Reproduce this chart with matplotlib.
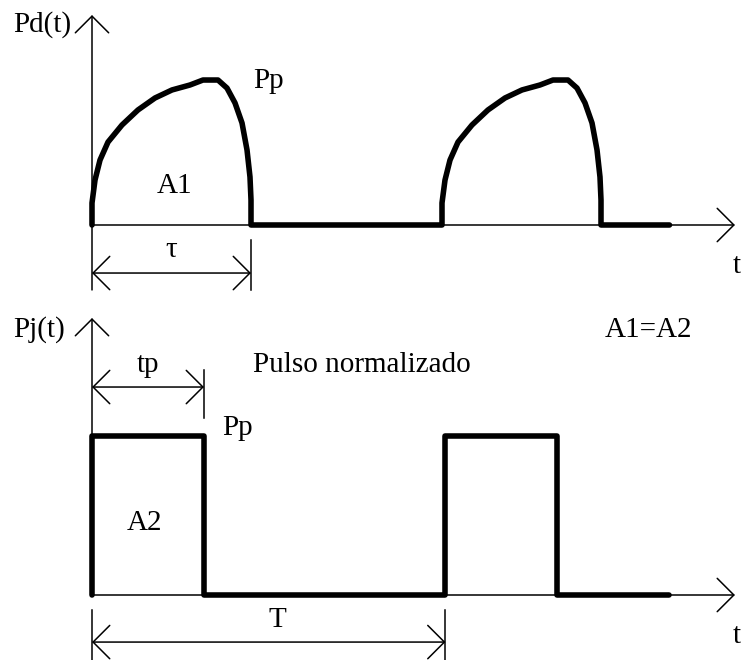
import numpy as np
import matplotlib.pyplot as plt
from matplotlib.patches import FancyArrowPatch

plt.rcParams['font.family'] = ['Liberation Serif', 'DejaVu Serif']

# top waveform: one pulse of dissipated power
# (time in arbitrary units, power normalised to Pp = 1)
pulse_t = [0.0, 0.0, 0.086, 0.229, 0.457, 0.857, 1.314, 1.8, 2.286, 2.8,
           3.171, 3.6, 3.857, 4.086, 4.286, 4.429, 4.514, 4.543, 4.543]
pulse_p = [0.0, 0.151, 0.308, 0.445, 0.568, 0.685, 0.788, 0.870, 0.925,
           0.959, 0.993, 0.993, 0.938, 0.836, 0.699, 0.514, 0.329, 0.171, 0.0]
period = 10.0
t_end = 16.5
tau = 4.543

# bottom waveform: equivalent rectangular pulse
norm_t = [0.0, 0.0, 3.2, 3.2, 10.1, 10.1, 13.3, 13.3, 16.5]
norm_p = [0.0, 1.0, 1.0, 0.0, 0.0, 1.0, 1.0, 0.0, 0.0]
tp = 3.2
T = 10.1

t_axis_end = 18.37

THICK = 4.0
THIN = 1.1
FS = 21
HEAD = '->,head_length=12,head_width=12'
HEAD2 = '<->,head_length=12,head_width=12'


def arrow(ax, a, b, style=HEAD):
    ax.add_patch(FancyArrowPatch(a, b, arrowstyle=style, mutation_scale=1,
                                 lw=THIN, color='black', shrinkA=0, shrinkB=0))


fig = plt.figure(figsize=(7.44, 6.6), dpi=100)
ax1 = fig.add_axes([0, 0, 1, 1])
ax2 = fig.add_axes([0, 0, 1, 1])
for ax in (ax1, ax2):
    ax.axis('off')
    ax.set_xlim(-2.6286, 18.6286)
ax1.set_ylim(-2.9795, 1.5411)
ax2.set_ylim(-0.4088, 3.7421)

# ---- top: Pd(t)
arrow(ax1, (0, 0), (t_axis_end, 0))
arrow(ax1, (0, -0.445), (0, 1.438))
t1 = np.concatenate([pulse_t, [period], np.array(pulse_t) + period, [t_end]])
p1 = np.concatenate([pulse_p, [0.0], pulse_p, [0.0]])
ax1.plot(t1, p1, color='black', lw=THICK, solid_joinstyle='round',
         solid_capstyle='round')
arrow(ax1, (0, -0.329), (tau, -0.329), HEAD2)
ax1.plot([tau, tau], [-0.103, -0.445], color='black', lw=THIN)

ax1.text(-2.257, 1.322, 'Pd(t)', fontsize=FS)
ax1.text(4.6, 0.938, 'Pp', fontsize=FS)
ax1.text(1.857, 0.219, 'A1', fontsize=FS)
ax1.text(tau / 2, -0.219, 'τ', fontsize=FS, ha='center')
ax1.text(18.43, -0.329, 't', fontsize=FS, ha='center')

# ---- bottom: Pj(t)
arrow(ax2, (0, 0), (t_axis_end, 0))
arrow(ax2, (0, 0), (0, 1.742))
ax2.plot(norm_t, norm_p, color='black', lw=THICK, solid_joinstyle='round',
         solid_capstyle='round')
arrow(ax2, (0, 1.308), (tp, 1.308), HEAD2)
ax2.plot([tp, tp], [1.415, 1.113], color='black', lw=THIN)
arrow(ax2, (0, -0.296), (T, -0.296), HEAD2)
ax2.plot([0, 0], [-0.094, -0.41], color='black', lw=THIN)
ax2.plot([T, T], [-0.094, -0.41], color='black', lw=THIN)

ax2.text(-2.257, 1.623, 'Pj(t)', fontsize=FS)
ax2.text(14.66, 1.623, 'A1=A2', fontsize=FS)
ax2.text(tp / 2, 1.403, 'tp', fontsize=FS, ha='center')
ax2.text(4.6, 1.403, 'Pulso normalizado', fontsize=FS)
ax2.text(3.714, 1.006, 'Pp', fontsize=FS)
ax2.text(1.486, 0.409, 'A2', fontsize=FS, ha='center')
ax2.text(5.3, -0.201, 'T', fontsize=FS, ha='center')
ax2.text(18.43, -0.302, 't', fontsize=FS, ha='center')

fig.savefig('out.png', dpi=100)
